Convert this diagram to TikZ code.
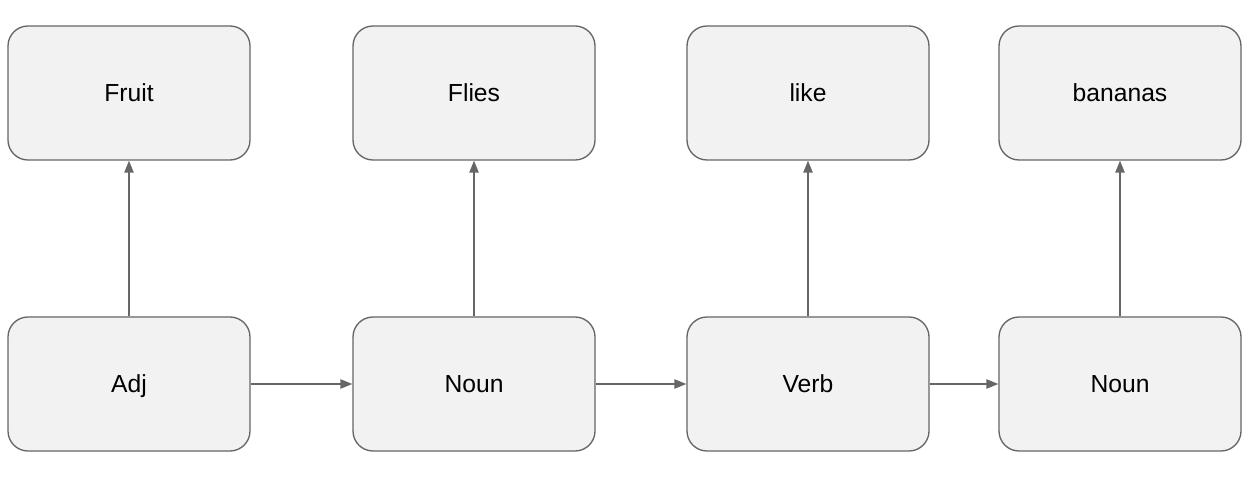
\documentclass[tikz,border=0pt]{standalone}
\usepackage{fontspec}
\setmainfont{Liberation Sans}
\usepackage{tikz}
\usepackage{xcolor}
\usetikzlibrary{arrows.meta,positioning}
\definecolor{boxfill}{HTML}{F2F2F2}
\definecolor{boxline}{HTML}{666666}

\begin{document}
\begin{tikzpicture}[x=0.75pt,y=-0.75pt,
	word/.style={draw=boxline, fill=boxfill, rounded corners=15pt, line width=1pt,
		minimum width=181.5pt, minimum height=100.5pt, text height=15pt, text depth=2.5pt,
		font=\fontsize{18.5}{22}\selectfont},
	link/.style={draw=boxline, line width=1pt, -{Triangle[length=9pt,width=7pt]}}]
	\useasboundingbox (0,0) rectangle (1259,484);
	%words
	\node[word] (w1) at (129,93) {Fruit};
	\node[word] (w2) at (474,93) {Flies};
	\node[word] (w3) at (808,93) {like};
	\node[word] (w4) at (1120,93) {bananas};
	%tags
	\node[word] (t1) at (129,384) {Adj};
	\node[word] (t2) at (474,384) {Noun};
	\node[word] (t3) at (808,384) {Verb};
	\node[word] (t4) at (1120,384) {Noun};
	%emissions
	\foreach \i in {1,...,4}
		\draw[link] (t\i) -- (w\i);
	%transitions
	\draw[link] (t1) -- (t2);
	\draw[link] (t2) -- (t3);
	\draw[link] (t3) -- (t4);
\end{tikzpicture}
\end{document}
